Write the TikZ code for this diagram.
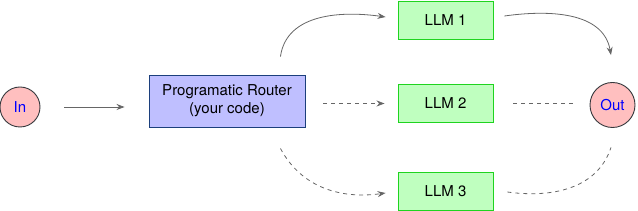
\documentclass[tikz,border=0pt]{standalone}
\usepackage{fontspec}
\setmainfont{TeX Gyre Heros}
\usetikzlibrary{arrows.meta}

\definecolor{routerFill}{HTML}{BFBFFF}
\definecolor{routerLine}{HTML}{1C3F7C}
\definecolor{llmFill}{HTML}{BFFFBF}
\definecolor{llmLine}{HTML}{1FD41F}
\definecolor{endFill}{HTML}{FFBFBF}
\definecolor{endLine}{HTML}{36393D}
\definecolor{flowGray}{HTML}{666666}

\begin{document}
\begin{tikzpicture}[x=1pt, y=1pt, >={Stealth[length=8pt, width=6pt]},
    endpoint/.style={circle, draw=endLine, fill=endFill, line width=0.9pt,
        inner sep=0pt, text=blue, font=\fontsize{15}{17}\selectfont},
    router/.style={rectangle, draw=routerLine, fill=routerFill, line width=0.9pt,
        minimum width=156pt, minimum height=52pt, align=center,
        font=\fontsize{15}{18}\selectfont},
    llm/.style={rectangle, draw=llmLine, fill=llmFill, line width=0.9pt,
        minimum width=95pt, minimum height=38pt,
        font=\fontsize{15}{17}\selectfont},
    flow/.style={->, flowGray, line width=0.8pt},
    maybe/.style={flowGray, line width=0.8pt, dash pattern=on 4pt off 4pt}]

    % --- Canvas ---
    \useasboundingbox (0, 0) rectangle (638, 211);

    % --- Nodes ---
    \node[endpoint, minimum size=40pt] (in) at (20, 104) {In};
    \node[router] (router) at (227, 110) {Programatic Router\\(your code)};
    \node[llm] (llm1) at (445.5, 191) {LLM 1};
    \node[llm] (llm2) at (445.5, 107.5) {LLM 2};
    \node[llm] (llm3) at (445.5, 20) {LLM 3};
    \node[endpoint, minimum size=45pt] (out) at (612.5, 106) {Out};

    % --- Input ---
    \draw[flow, shorten <=24pt, shorten >=24pt] (in) -- (router.west |- in);

    % --- Route taken (solid) ---
    \draw[flow] ([xshift=-25pt, yshift=18pt]router.north east)
        to[out=82, in=172] ([xshift=-12pt, yshift=3pt]llm1.west);
    \draw[flow] ([xshift=11pt, yshift=4pt]llm1.east)
        to[out=8, in=100] ([xshift=-1.5pt, yshift=27pt]out.north);

    % --- Other routes (dashed) ---
    \draw[maybe, ->, shorten <=18pt, shorten >=13pt] (router.east |- llm2) -- (llm2.west);
    \draw[maybe, shorten <=20pt, shorten >=15pt] (llm2.east) -- (out.west |- llm2);
    \draw[maybe, ->] ([xshift=-25pt, yshift=-21pt]router.south east)
        to[out=-62, in=188] ([xshift=-12pt, yshift=-2pt]llm3.west);
    \draw[maybe] ([xshift=14pt, yshift=-1pt]llm3.east)
        to[out=-8, in=-108] ([xshift=-1.5pt, yshift=-19.5pt]out.south);

\end{tikzpicture}
\end{document}
